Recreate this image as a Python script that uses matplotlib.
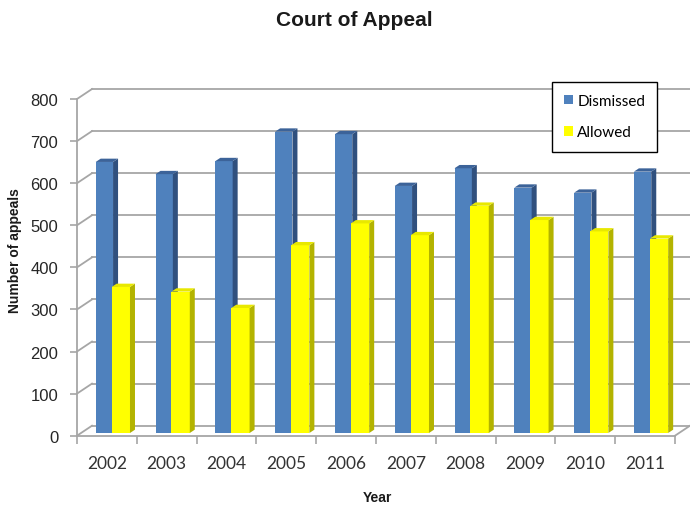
import numpy as np
import matplotlib.pyplot as plt
from matplotlib.patches import Polygon, Patch
from matplotlib.transforms import ScaledTranslation

years = ['2002', '2003', '2004', '2005', '2006', '2007', '2008', '2009', '2010', '2011']
dismissed = [644, 615, 646, 716, 710, 587, 629, 583, 571, 621]
allowed = [347, 336, 297, 446, 498, 470, 540, 506, 479, 462]
yticks = [0, 100, 200, 300, 400, 500, 600, 700, 800]

blue = '#4F81BD'
blue_side = '#30507E'
blue_top = '#3C6399'
yel = '#FFFF00'
yel_side = '#B3B300'
yel_top = '#E8E800'
grid_c = '#A6A6A6'

fig = plt.figure(figsize=(6.9, 5.1), dpi=100)
ax = fig.add_axes([77/690, 1-436.7/510, 598/690, 336.7/510])
ax.set_xlim(-0.5, 9.5)
ax.set_ylim(0, 800)
for s in ax.spines.values():
    s.set_visible(False)

# back wall / floor offsets (pixels -> inches at 100 dpi)
back = ax.transData + ScaledTranslation(15/100, 10/100, fig.dpi_scale_trans)
mid = ax.transData + ScaledTranslation(4/100, 2.7/100, fig.dpi_scale_trans)

for v in yticks:
    ax.plot([-0.5, 9.5], [v, v], color=grid_c, lw=1.3, transform=back, clip_on=False, zorder=1)
    # left wall diagonal
    x0, y0 = ax.transData.transform((-0.5, v))
    x1, y1 = back.transform((-0.5, v))
    ax.plot([x0, x1], [y0, y1], color=grid_c, lw=1.3, transform=None, clip_on=False, zorder=1)
# floor right edge
x0, y0 = ax.transData.transform((9.5, 0))
x1, y1 = back.transform((9.5, 0))
ax.plot([x0, x1], [y0, y1], color=grid_c, lw=1.3, transform=None, clip_on=False, zorder=1)
# front axes lines
ax.plot([-0.5, -0.5], [0, 800], color=grid_c, lw=1.3, clip_on=False, zorder=2)
ax.plot([-0.5, 9.5], [0, 0], color=grid_c, lw=1.3, clip_on=False, zorder=2)

# bar depth in data units (5 px right, 3.3 px up)
ddx = 5/59.8
ddy = 3.3 * 800/336.7


def bar3d(left, width, h, front, side, top):
    r = left + width
    ax.add_patch(Polygon([(left, 0), (r, 0), (r, h), (left, h)], closed=True,
                         facecolor=front, edgecolor='none', transform=mid, clip_on=False, zorder=3))
    ax.add_patch(Polygon([(r, 0), (r+ddx, ddy), (r+ddx, h+ddy), (r, h)], closed=True,
                         facecolor=side, edgecolor='none', transform=mid, clip_on=False, zorder=3))
    ax.add_patch(Polygon([(left, h), (r, h), (r+ddx, h+ddy), (left+ddx, h+ddy)], closed=True,
                         facecolor=top, edgecolor='none', transform=mid, clip_on=False, zorder=3))


x = np.arange(len(years))
for i in range(len(years)):
    bar3d(x[i] - 0.254, 0.29, dismissed[i], blue, blue_side, blue_top)
    bar3d(x[i] + 0.013, 0.306, allowed[i], yel, yel_side, yel_top)

# ticks
ax.set_yticks(yticks)
ax.set_yticklabels([str(v) for v in yticks], fontsize=12, color='#262626', family='Liberation Sans')
ax.tick_params(axis='y', length=5, width=1.2, color=grid_c, pad=8.5)
ax.set_xticks(x)
ax.set_xticklabels(years, fontsize=12.5, color='#333333', family='Lato')
ax.tick_params(axis='x', which='major', length=0, pad=14)
ax.set_xticks(np.arange(-0.5, 10, 1), minor=True)
ax.tick_params(axis='x', which='minor', length=6, width=1.2, color=grid_c)

fig.text(354/690, 1-20/510, 'Court of Appeal', ha='center', va='center',
         fontsize=15, fontweight='bold', family='Liberation Sans', color='#1a1a1a')
fig.text(15/690, 1-251/510, 'Number of appeals', ha='center', va='center', rotation=90,
         fontsize=10, fontweight='bold', family='Liberation Sans', color='#1a1a1a')
fig.text(377.5/690, 1-498/510, 'Year', ha='center', va='center',
         fontsize=10, fontweight='bold', family='Liberation Sans', color='#1a1a1a')

handles = [Patch(facecolor=blue, label='Dismissed'), Patch(facecolor=yel, label='Allowed')]
leg = fig.legend(handles=handles, loc='upper left', bbox_to_anchor=(552/690, 1-82.7/510),
                 frameon=True, fancybox=False, edgecolor='#000000', framealpha=1,
                 prop={'family': 'Lato', 'size': 11}, handlelength=0.55, handleheight=0.55,
                 handletextpad=0.3, labelspacing=1.15, borderpad=0.8, borderaxespad=0)
leg.get_frame().set_linewidth(1.0)
leg.set_zorder(5)

plt.savefig('out.png', dpi=100)
plt.close()
